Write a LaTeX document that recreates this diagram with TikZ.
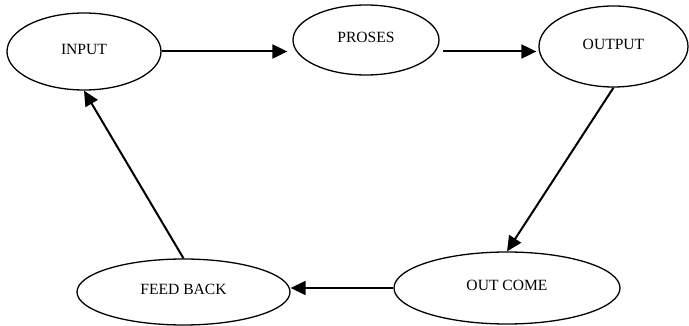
\documentclass[tikz,border=0pt]{standalone}
\usepackage{fontspec}
\setmainfont{Liberation Serif}
\usetikzlibrary{shapes.geometric,arrows.meta}
\tikzset{
  stage/.style = {ellipse, draw = black, line width = 1.3pt, inner sep = 0pt,
    font = \fontsize{15.6}{18}\selectfont, text height = 10.5pt, text depth = 5pt},
  flow/.style = {line width = 2pt, -{Triangle[length = 15pt, width = 14pt]}}
}
\begin{document}
\begin{tikzpicture}[x = 1pt, y = -1pt]
\useasboundingbox (0,0) rectangle (689,326);
\foreach \name/\x/\y/\w/\h/\txt in {input/84/51.5/154/77/INPUT, proses/366/40/146/70/PROSES, output/613.5/46.5/149/81/OUTPUT, outcome/507/288/226/72/OUT COME, feedback/183.5/292/213/66/FEED BACK}
  \node [stage, minimum width = \w pt, minimum height = \h pt] (\name) at (\x,\y) {\txt};
\draw [flow, shorten > = 5pt] (input.east) -- (input.east -| proses.west);
\draw [flow, shorten > = 2pt] ([xshift = 3pt]proses.east |- input.east) -- (output.west |- input.east);
\draw [flow] (output.south) -- (outcome.north);
\draw [flow] (outcome.west) -- (outcome.west -| feedback.east);
\draw [flow] (feedback.north) -- (input.south);
\end{tikzpicture}
\end{document}
